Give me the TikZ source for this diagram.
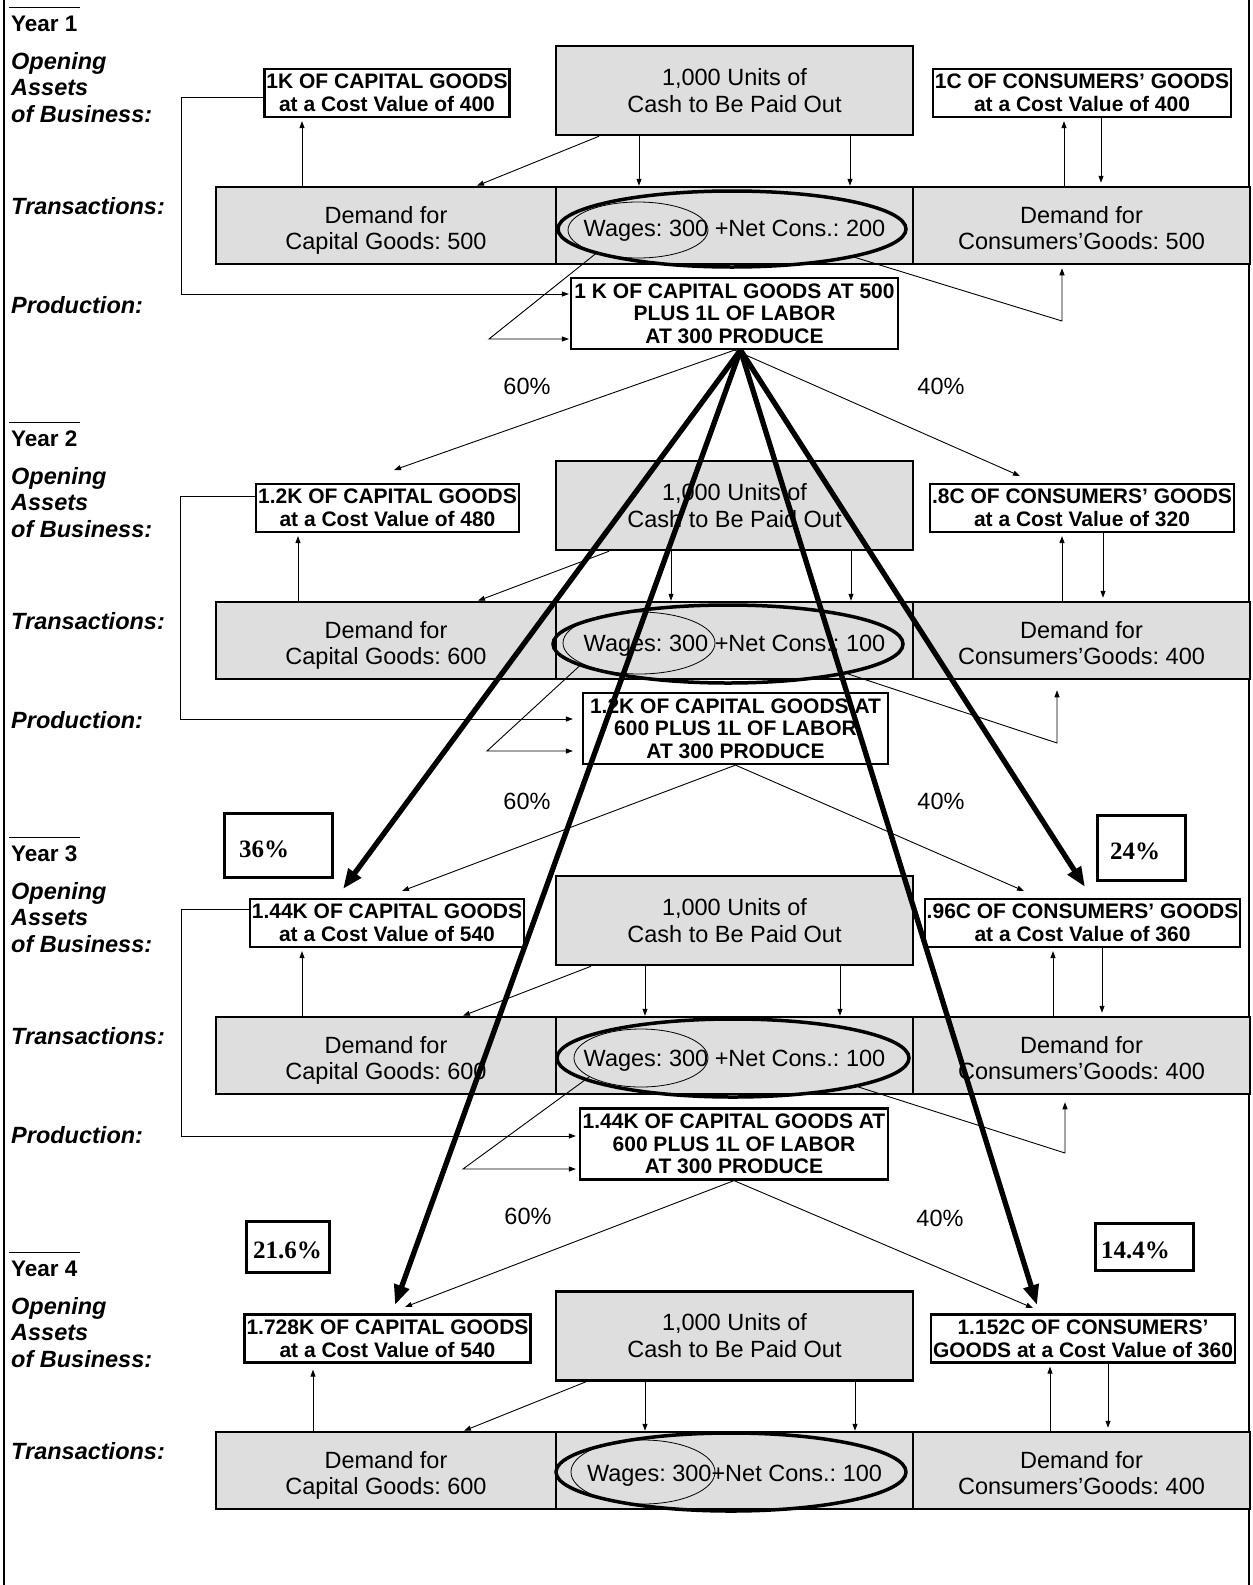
\documentclass[tikz,border=0pt]{standalone}
\usepackage{fontspec}
\setmainfont{Liberation Sans}
\newfontfamily\pctfont{Liberation Serif}
\usetikzlibrary{arrows.meta,shapes.geometric}
\definecolor{boxgray}{RGB}{222,222,222}
\newcommand\cellstrut{\rule{0pt}{28pt}}
\newcommand\celldepth{\rule[-6pt]{0pt}{6pt}}
\newcommand\pctstrut{\rule{0pt}{25pt}}
\frenchspacing
\begin{document}
\frenchspacing
\begin{tikzpicture}[x=1pt,y=-1pt,
  tarr/.style={line width=0.9pt,-{Triangle[length=7pt,width=5pt]}},
  tline/.style={line width=0.9pt},
  thickarr/.style={line width=5.3pt,-{Triangle[length=20pt,width=15pt]}},
  lbl/.style={font=\fontsize{23.5}{26.5}\selectfont\bfseries\itshape,anchor=north west,align=left,inner sep=0pt},
  yrlbl/.style={font=\fontsize{22.5}{26}\selectfont\bfseries,anchor=base west,inner sep=0pt},
  goodsbox/.style={draw,line width=2.2pt,fill=white,font=\fontsize{21}{23}\selectfont\bfseries,align=center,inner xsep=2pt,inner ysep=0pt,minimum height=48pt},
  cashbox/.style={draw,line width=2.5pt,fill=boxgray,font=\fontsize{23.5}{27}\selectfont,align=center,minimum width=357pt,minimum height=89pt,inner sep=0pt},
  cell/.style={draw,line width=2.5pt,fill=boxgray,font=\fontsize{23.5}{26.5}\selectfont,align=center,minimum height=77pt,inner sep=0pt},
  prodbox/.style={draw,line width=2.2pt,fill=white,font=\fontsize{21}{22.5}\selectfont\bfseries,align=center,inner xsep=2pt,inner ysep=0pt,minimum height=71pt},
  pcttxt/.style={font=\fontsize{23.5}{26}\selectfont,inner sep=0pt},
  pctbox/.style={draw,line width=3pt,fill=white,font=\pctfont\bfseries\fontsize{25}{28}\selectfont,inner ysep=0pt},
  bigell/.style={ellipse,draw,line width=3.5pt,inner sep=0pt},
  smallell/.style={ellipse,draw,line width=0.8pt,inner sep=0pt},
  yrline/.style={line width=1.5pt}
]
\useasboundingbox (0,0) rectangle (1253,1585);
% frame
\draw[line width=1.5pt] (4,0) -- (4,1585);
\draw[line width=1.5pt] (1249,0) -- (1249,1585);

%================ YEAR 1 =================
\draw[yrline] (9,7.5) -- (80,7.5);
\node[yrlbl] (yr1) at (11,31.5) {Year 1};
\node[lbl] (open1) at (11,52) {Opening\\Assets\\of Business:};
\node[lbl,anchor=base west] (trans1) at (11,214) {Transactions:};
\node[lbl,anchor=base west] (prodlbl1) at (11,313) {Production:};

\node[goodsbox] (cap1) at (387,93) {1K OF CAPITAL GOODS\\at a Cost Value of 400};
\node[cashbox] (cash1) at (734.5,90.5) {1,000 Units of\\Cash to Be Paid Out};
\node[goodsbox] (con1) at (1082,93) {1C OF CONSUMERS’ GOODS\\at a Cost Value of 400};
\node[cell,minimum width=340pt] (dcap1) at (386,225.5) {\cellstrut Demand for\\Capital Goods: 500\celldepth};
\node[cell,minimum width=357pt] (mid1) at (734.5,225.5) {\cellstrut Wages: 300 +Net Cons.: 200\celldepth};
\node[cell,minimum width=337pt] (dcon1) at (1081.5,225.5) {\cellstrut Demand for\\Consumers’Goods: 500\celldepth};
\node[bigell,minimum width=348pt,minimum height=76pt] (big1) at (732,229) {};
\node[smallell,minimum width=140pt,minimum height=56pt] (small1) at (638,230) {};
\node[prodbox,minimum width=327pt] (prod1) at (734.5,313.5) {1 K OF CAPITAL GOODS AT 500\\PLUS 1L OF LABOR\\AT 300 PRODUCE};
\node[pcttxt] (p60a) at (527,386) {60\%};
\node[pcttxt] (p40a) at (941,386) {40\%};

\draw[tarr,shorten >=3pt] (dcap1.north -| 302,0) -- (cap1.south -| 302,0);
\draw[tarr,shorten >=1pt] (cap1.west |- 0,97) -| (181,294) -- (prod1.west |- 0,294);
\draw[tarr] (cash1.south -| 599,0) -- (dcap1.north -| 477,0);
\draw[tarr] (cash1.south -| 639,0) -- (mid1.north -| 639,0);
\draw[tarr] (cash1.south -| 850,0) -- (mid1.north -| 850,0);
\draw[tarr,shorten >=3pt] (dcon1.north -| 1064,0) -- (con1.south -| 1064,0);
\draw[tarr,shorten >=3pt] (con1.south -| 1101,0) -- (dcon1.north -| 1101,0);
\draw[tarr,shorten >=1pt] (small1.209) -- (489,339) -- (prod1.west |- 0,339);
\draw[tarr,shorten >=3pt] (big1.-13) -- (1062,321) -- (dcon1.south -| 1062,0);
\coordinate (t1l) at (394,470);
\coordinate (t1r) at (1020,476);
\draw[tarr] (prod1.south) -- (t1l);
\draw[tarr] (prod1.south) -- (t1r);

%================ YEAR 2 =================
\draw[yrline] (9,422.5) -- (80,422.5);
\node[yrlbl] (yr2) at (11,446.5) {Year 2};
\node[lbl] (open2) at (11,467) {Opening\\Assets\\of Business:};
\node[lbl,anchor=base west] (trans2) at (11,629) {Transactions:};
\node[lbl,anchor=base west] (prodlbl2) at (11,728) {Production:};

\node[goodsbox] (cap2) at (387.5,508) {1.2K OF CAPITAL GOODS\\at a Cost Value of 480};
\node[cashbox] (cash2) at (734.5,505.5) {1,000 Units of\\Cash to Be Paid Out};
\node[goodsbox] (con2) at (1082,508) {.8C OF CONSUMERS’ GOODS\\at a Cost Value of 320};
\node[cell,minimum width=340pt] (dcap2) at (386,640.5) {\cellstrut Demand for\\Capital Goods: 600\celldepth};
\node[cell,minimum width=357pt] (mid2) at (734.5,640.5) {\cellstrut Wages: 300 +Net Cons.: 100\celldepth};
\node[cell,minimum width=337pt] (dcon2) at (1081.5,640.5) {\cellstrut Demand for\\Consumers’Goods: 400\celldepth};
\node[bigell,minimum width=350pt,minimum height=78pt] (big2) at (728,644) {};
\node[smallell,minimum width=152pt,minimum height=62pt] (small2) at (639,643) {};
\node[prodbox,minimum width=305pt] (prod2) at (735.5,728.5) {1.2K OF CAPITAL GOODS AT\\600 PLUS 1L OF LABOR\\AT 300 PRODUCE};
\node[pcttxt] (p60b) at (527,801) {60\%};
\node[pcttxt] (p40b) at (941,801) {40\%};

\draw[tarr,shorten >=3pt] (dcap2.north -| 298,0) -- (cap2.south -| 298,0);
\draw[tarr,shorten >=9pt] (cap2.west |- 0,496) -| (180,719) -- (prod2.west |- 0,719);
\draw[tarr] (cash2.south -| 609,0) -- (dcap2.north -| 478,0);
\draw[tarr] (cash2.south -| 671,0) -- (mid2.north -| 671,0);
\draw[tarr] (cash2.south -| 851,0) -- (mid2.north -| 851,0);
\draw[tarr,shorten >=3pt] (dcon2.north -| 1062,0) -- (con2.south -| 1062,0);
\draw[tarr,shorten >=3pt] (con2.south -| 1103,0) -- (dcon2.north -| 1103,0);
\draw[tarr,shorten >=9pt] (small2.200) -- (487,751) -- (prod2.west |- 0,751);
\draw[tarr,shorten >=10pt] (big2.-14) -- (1057,743) -- (dcon2.south -| 1057,0);
\coordinate (t2l) at (402,891);
\coordinate (t2r) at (1024,891);
\draw[tarr] (prod2.south) -- (t2l);
\draw[tarr] (prod2.south) -- (t2r);

%================ YEAR 3 =================
\draw[yrline] (9,837.5) -- (80,837.5);
\node[yrlbl] (yr3) at (11,861.5) {Year 3};
\node[lbl] (open3) at (11,882) {Opening\\Assets\\of Business:};
\node[lbl,anchor=base west] (trans3) at (11,1044) {Transactions:};
\node[lbl,anchor=base west] (prodlbl3) at (11,1143) {Production:};

\node[goodsbox] (cap3) at (387,923) {1.44K OF CAPITAL GOODS\\at a Cost Value of 540};
\node[cashbox] (cash3) at (734.5,920.5) {1,000 Units of\\Cash to Be Paid Out};
\node[goodsbox] (con3) at (1082.5,923) {.96C OF CONSUMERS’ GOODS\\at a Cost Value of 360};
\node[cell,minimum width=340pt] (dcap3) at (386,1055.5) {\cellstrut Demand for\\Capital Goods: 600\celldepth};
\node[cell,minimum width=357pt] (mid3) at (734.5,1055.5) {\cellstrut Wages: 300 +Net Cons.: 100\celldepth};
\node[cell,minimum width=337pt] (dcon3) at (1081.5,1055.5) {\cellstrut Demand for\\Consumers’Goods: 400\celldepth};
\node[bigell,minimum width=352pt,minimum height=78pt] (big3) at (733,1058) {};
\node[smallell,minimum width=134pt,minimum height=58pt] (small3) at (641,1058) {};
\node[prodbox,minimum width=308pt] (prod3) at (734,1144) {1.44K OF CAPITAL GOODS AT\\600 PLUS 1L OF LABOR\\AT 300 PRODUCE};
\node[pcttxt] (p60c) at (528,1216) {60\%};
\node[pcttxt] (p40c) at (940,1218) {40\%};
\node[pctbox,text width=78pt,inner xsep=15pt,align=left,minimum height=64pt] (pc36) at (278,845) {\pctstrut 36\%};
\node[pctbox,text width=62pt,inner xsep=13pt,align=left,minimum height=65pt] (pc24) at (1141,847.5) {\pctstrut 24\%};

\draw[tarr,shorten >=3pt] (dcap3.north -| 302,0) -- (cap3.south -| 302,0);
\draw[tarr,shorten >=3pt] (cap3.west |- 0,909) -| (181,1136) -- (prod3.west |- 0,1136);
\draw[tarr] (cash3.south -| 591,0) -- (dcap3.north -| 463,0);
\draw[tarr] (cash3.south -| 645,0) -- (mid3.north -| 645,0);
\draw[tarr] (cash3.south -| 840,0) -- (mid3.north -| 840,0);
\draw[tarr,shorten >=3pt] (dcon3.north -| 1053,0) -- (con3.south -| 1053,0);
\draw[tarr,shorten >=3pt] (con3.south -| 1102,0) -- (dcon3.north -| 1102,0);
\draw[tarr,shorten >=3pt] (small3.200) -- (463,1169) -- (prod3.west |- 0,1169);
\draw[tarr,shorten >=7pt] (big3.-13) -- (1065,1153) -- (dcon3.south -| 1065,0);
\coordinate (t3l) at (405,1307);
\coordinate (t3r) at (1033,1308);
\draw[tarr] (prod3.south) -- (t3l);
\draw[tarr] (prod3.south) -- (t3r);

%================ YEAR 4 =================
\draw[yrline] (9,1252.5) -- (80,1252.5);
\node[yrlbl] (yr4) at (11,1276.5) {Year 4};
\node[lbl] (open4) at (11,1297) {Opening\\Assets\\of Business:};
\node[lbl,anchor=base west] (trans4) at (11,1459) {Transactions:};

\node[goodsbox] (cap4) at (387.5,1338.5) {1.728K OF CAPITAL GOODS\\at a Cost Value of 540};
\node[cashbox] (cash4) at (734.5,1336) {1,000 Units of\\Cash to Be Paid Out};
\node[goodsbox] (con4) at (1083,1338.5) {1.152C OF CONSUMERS’\\GOODS at a Cost Value of 360};
\node[cell,minimum width=340pt] (dcap4) at (386,1470.5) {\cellstrut Demand for\\Capital Goods: 600\celldepth};
\node[cell,minimum width=357pt] (mid4) at (734.5,1470.5) {\cellstrut Wages: 300+Net Cons.: 100\celldepth};
\node[cell,minimum width=337pt] (dcon4) at (1081.5,1470.5) {\cellstrut Demand for\\Consumers’Goods: 400\celldepth};
\node[bigell,minimum width=350pt,minimum height=78pt] (big4) at (731,1472) {};
\node[smallell,minimum width=144pt,minimum height=64pt] (small4) at (643,1472) {};
\node[pctbox,text width=71pt,inner xsep=6pt,align=center,minimum height=51pt] (pc216) at (287.5,1246.5) {\pctstrut 21.6\%};
\node[pctbox,text width=86pt,inner xsep=6pt,align=left,minimum height=47pt] (pc144) at (1144,1246.5) {\pctstrut 14.4\%};

\draw[tarr,shorten >=6pt] (dcap4.north -| 313,0) -- (cap4.south -| 313,0);
\draw[tarr] (cash4.south -| 586,0) -- (dcap4.north -| 464,0);
\draw[tarr] (cash4.south -| 645,0) -- (mid4.north -| 645,0);
\draw[tarr] (cash4.south -| 855,0) -- (mid4.north -| 855,0);
\draw[tarr,shorten >=3pt] (dcon4.north -| 1050,0) -- (con4.south -| 1050,0);
\draw[tarr,shorten >=3pt] (con4.south -| 1108,0) -- (dcon4.north -| 1108,0);

%================ THICK ARROWS =================
\coordinate (apex) at ([xshift=6pt]prod1.south);
\coordinate (e3cap) at (343,889);
\coordinate (e4cap) at (395,1305);
\coordinate (e4con) at (1037,1305);
\coordinate (e3con) at (1085,887);
\draw[thickarr] (apex) -- (e3cap);
\draw[thickarr] (apex) -- (e4cap);
\draw[thickarr] (apex) -- (e4con);
\draw[thickarr] (apex) -- (e3con);
\end{tikzpicture}
\end{document}
